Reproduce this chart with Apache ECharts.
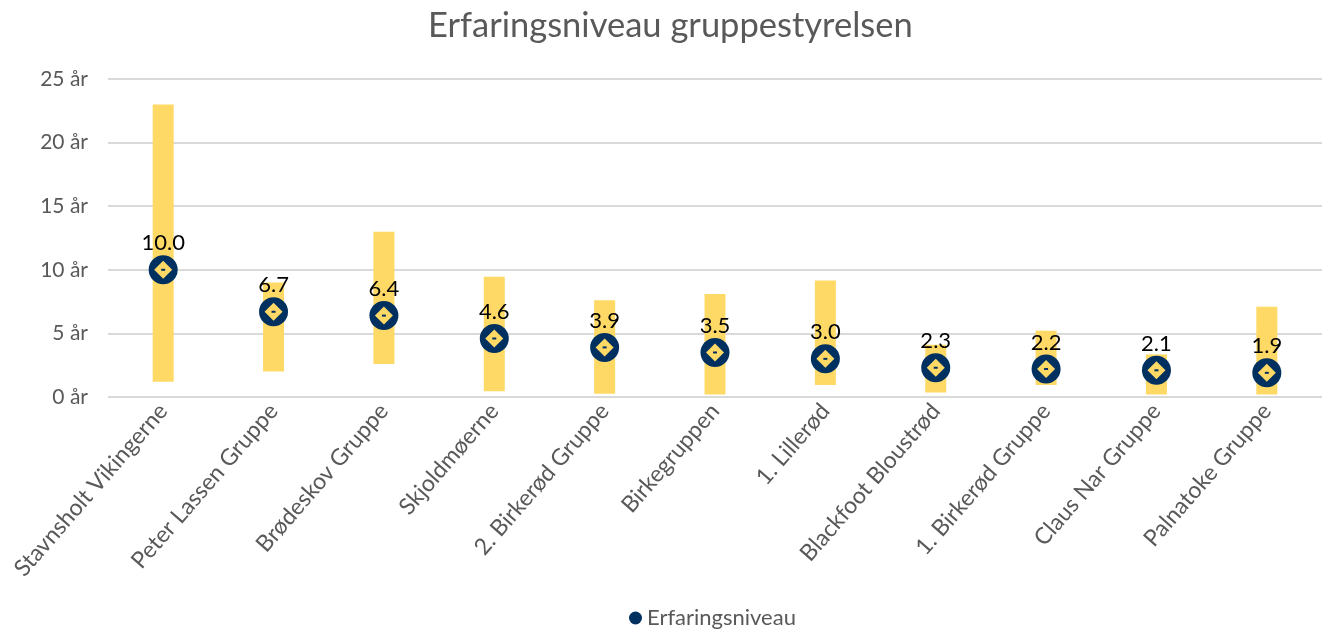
<!DOCTYPE html>
<html>
<head>
<meta charset="utf-8">
<script src="https://cdn.jsdelivr.net/npm/echarts@6/dist/echarts.min.js"></script>
<style>
  html, body { margin: 0; padding: 0; background: #fff; }
  #chart { width: 1323px; height: 634px; }
</style>
</head>
<body>
<div id="chart"></div>
<script>
  var categories = ['Stavnsholt Vikingerne', 'Peter Lassen Gruppe', 'Brødeskov Gruppe', 'Skjoldmøerne',
    '2. Birkerød Gruppe', 'Birkegruppen', '1. Lillerød', 'Blackfoot Bloustrød',
    '1. Birkerød Gruppe', 'Claus Nar Gruppe', 'Palnatoke Gruppe']
  var rangeLow = [1.2, 2.0, 2.6, 0.45, 0.25, 0.2, 0.95, 0.35, 0.95, 0.2, 0.2]
  var rangeHigh = [23.0, 9.0, 13.0, 9.45, 7.6, 8.1, 9.15, 4.1, 5.2, 3.35, 7.1]
  var average = [10.0, 6.7, 6.4, 4.6, 3.9, 3.5, 3.0, 2.3, 2.2, 2.1, 1.9]
  var yTicks = [0, 5, 10, 15, 20, 25]

  var fontFamily = 'Lato, "Open Sans", sans-serif'
  var navy = '#00305f'
  var yellow = '#ffd966'

  var rangeSpan = rangeHigh.map(function (h, i) { return +(h - rangeLow[i]).toFixed(2) })

  var chart = echarts.init(document.getElementById('chart'))
  var option = {
    animation: false,
    textStyle: { fontFamily: fontFamily },
    title: {
      text: 'Erfaringsniveau gruppestyrelsen',
      left: 423,
      top: 3,
      textStyle: { fontFamily: fontFamily, fontSize: 34.5, fontWeight: 'normal', color: '#595959' }
    },
    legend: {
      data: [{ name: 'Erfaringsniveau', icon: 'circle' }],
      bottom: 0,
      left: 624,
      itemWidth: 13,
      itemHeight: 13,
      itemGap: 4,
      itemStyle: { opacity: 1 },
      textStyle: { fontFamily: fontFamily, fontSize: 22, color: '#595959' }
    },
    grid: { left: 108, right: 1, top: 79, bottom: 237 },
    xAxis: {
      type: 'category',
      data: categories,
      boundaryGap: true,
      axisLine: { show: false },
      axisTick: { show: false },
      axisLabel: { rotate: 49, fontSize: 23, color: '#595959', margin: 10, interval: 0 }
    },
    yAxis: {
      type: 'value',
      min: yTicks[0],
      max: yTicks[yTicks.length - 1],
      interval: 5,
      axisLine: { show: false },
      axisTick: { show: false },
      axisLabel: { fontSize: 21, color: '#595959', margin: 20, formatter: '{value} år' },
      splitLine: { lineStyle: { color: '#d9d9d9', width: 2 } }
    },
    series: [
      {
        name: 'base',
        type: 'bar',
        stack: 'range',
        barWidth: 21,
        itemStyle: { color: 'transparent' },
        silent: true,
        data: rangeLow
      },
      {
        name: 'range',
        type: 'bar',
        stack: 'range',
        barWidth: 21,
        itemStyle: { color: yellow },
        data: rangeSpan
      },
      {
        name: 'Erfaringsniveau',
        type: 'scatter',
        symbol: 'circle',
        symbolSize: 29,
        itemStyle: { color: navy, opacity: 1 },
        z: 3,
        label: {
          show: true,
          position: 'top',
          distance: 1,
          fontSize: 22,
          color: '#000',
          formatter: function (p) { return p.value.toFixed(1) }
        },
        data: average
      },
      {
        name: 'diamond',
        type: 'scatter',
        symbol: 'diamond',
        symbolSize: 18,
        itemStyle: { color: yellow, opacity: 1 },
        z: 4,
        silent: true,
        data: average
      },
      {
        name: 'dash',
        type: 'scatter',
        symbol: 'rect',
        symbolSize: [4, 2],
        itemStyle: { color: navy, opacity: 1 },
        z: 5,
        silent: true,
        data: average
      }
    ]
  }
  chart.setOption(option)
</script>
</body>
</html>
